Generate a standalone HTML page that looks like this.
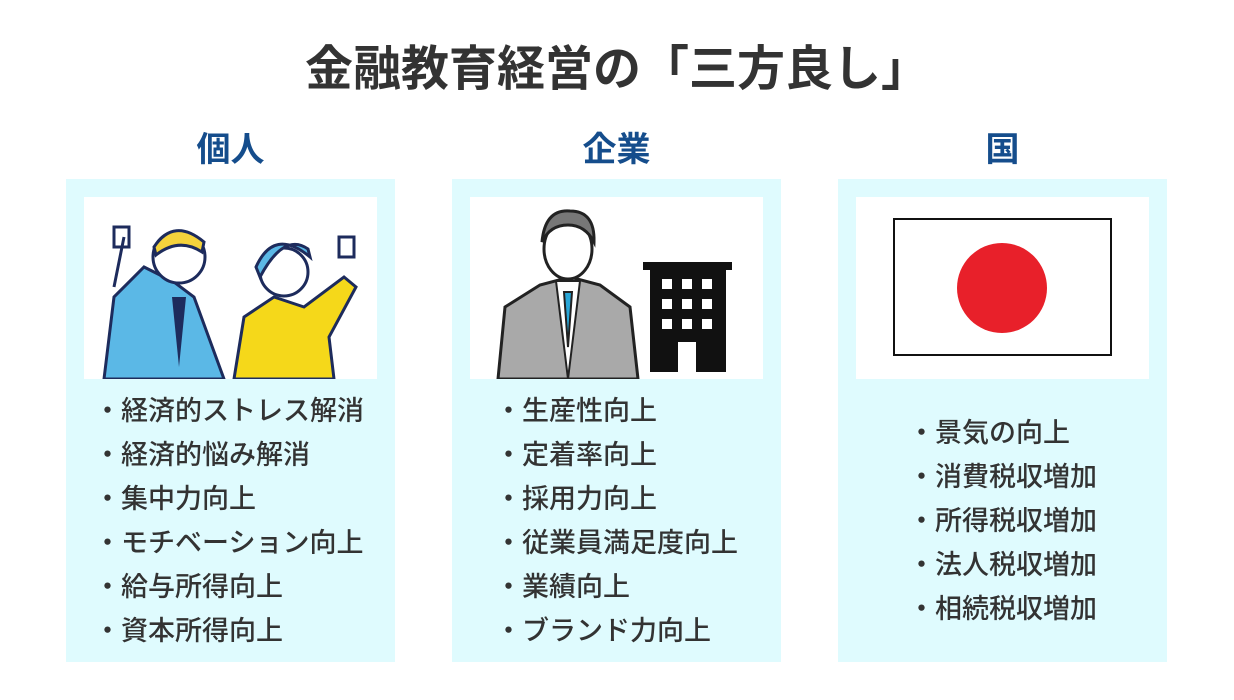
<!DOCTYPE html>
<html><head><meta charset="utf-8"><style>
body{margin:0;width:1234px;height:700px;background:#fff;position:relative;font-family:"Liberation Sans","Noto Sans CJK JP",sans-serif;overflow:hidden}
.t{position:absolute;left:0;width:1234px;top:40px;text-align:center;font-size:48px;font-weight:bold;color:#333;line-height:60px}
.h{position:absolute;top:128px;width:329px;text-align:center;font-size:34px;font-weight:bold;color:#154d8c;line-height:44px}
.p{position:absolute;top:179px;width:329px;height:483px;background:#dffbfe}
.img{position:absolute;left:18px;top:18px;width:293px;height:182px;background:#fff}
.l{position:absolute;margin:0;padding:0;list-style:none;font-size:27px;color:#333;line-height:44px;font-weight:500;white-space:nowrap}
</style></head><body>
<div class="t">金融教育経営の「三方良し」</div>
<div class="h" style="left:66px">個人</div>
<div class="h" style="left:452px">企業</div>
<div class="h" style="left:838px">国</div>

<div class="p" style="left:66px">
<div class="img"><svg width="293" height="182">
<path d="M20 182 L30 100 L60 70 L90 85 L110 100 L140 182Z" fill="#5bb8e6" stroke="#1d2b5c" stroke-width="3"/>
<path d="M40 40 L30 90 M30 30 l15 0 0 20 -15 0z" stroke="#1d2b5c" stroke-width="3" fill="#fff"/>
<circle cx="95" cy="60" r="26" fill="#fff" stroke="#1d2b5c" stroke-width="3"/>
<path d="M70 50 Q90 20 120 45 L118 55 Q95 40 72 58Z" fill="#f5d33c" stroke="#1d2b5c" stroke-width="3"/>
<path d="M88 100 L95 170 L102 100Z" fill="#1d2b5c"/>
<path d="M150 182 L160 120 L190 100 L220 110 L260 80 L272 90 L245 140 L250 182Z" fill="#f5d81a" stroke="#1d2b5c" stroke-width="3"/>
<circle cx="200" cy="75" r="24" fill="#fff" stroke="#1d2b5c" stroke-width="3"/>
<path d="M172 70 Q190 30 226 60 L224 52 Q200 35 176 80Z" fill="#5bb8e6" stroke="#1d2b5c" stroke-width="3"/>
<path d="M255 40 l15 0 0 20 -15 0z" fill="#fff" stroke="#1d2b5c" stroke-width="3"/>
</svg></div>
<ul class="l" style="top:210px;left:28px"><li>・経済的ストレス解消</li><li>・経済的悩み解消</li><li>・集中力向上</li><li>・モチベーション向上</li><li>・給与所得向上</li><li>・資本所得向上</li></ul>
</div>

<div class="p" style="left:452px">
<div class="img"><svg width="293" height="182">
<path d="M28 182 L35 110 L70 88 L100 80 L130 88 L160 110 L168 182Z" fill="#a9a9a9" stroke="#222" stroke-width="3"/>
<path d="M86 84 L98 182 L110 84Z" fill="#fff" stroke="#222" stroke-width="2"/>
<path d="M94 95 L98 150 L102 95Z" fill="#29a7d8" stroke="#222" stroke-width="2"/>
<ellipse cx="98" cy="52" rx="24" ry="30" fill="#fff" stroke="#222" stroke-width="3"/>
<path d="M72 45 Q75 12 100 14 Q125 14 124 45 Q115 28 98 28 Q80 28 72 45Z" fill="#777" stroke="#222" stroke-width="3"/>
<path d="M173 65 H262 V73 H256 V175 H180 V73 H173Z" fill="#111"/>
<g fill="#fff"><rect x="192" y="82" width="10" height="10"/><rect x="212" y="82" width="10" height="10"/><rect x="232" y="82" width="10" height="10"/><rect x="192" y="102" width="10" height="10"/><rect x="212" y="102" width="10" height="10"/><rect x="232" y="102" width="10" height="10"/><rect x="192" y="122" width="10" height="10"/><rect x="212" y="122" width="10" height="10"/><rect x="232" y="122" width="10" height="10"/><rect x="208" y="145" width="18" height="30"/></g>
</svg></div>
<ul class="l" style="top:210px;left:43px"><li>・生産性向上</li><li>・定着率向上</li><li>・採用力向上</li><li>・従業員満足度向上</li><li>・業績向上</li><li>・ブランド力向上</li></ul>
</div>

<div class="p" style="left:838px">
<div class="img"><svg width="293" height="182">
<rect x="38" y="22" width="217" height="136" fill="#fff" stroke="#111" stroke-width="2"/>
<circle cx="146" cy="91" r="45" fill="#e8202a"/>
</svg></div>
<ul class="l" style="top:232px;left:70px"><li>・景気の向上</li><li>・消費税収増加</li><li>・所得税収増加</li><li>・法人税収増加</li><li>・相続税収増加</li></ul>
</div>
</body></html>
